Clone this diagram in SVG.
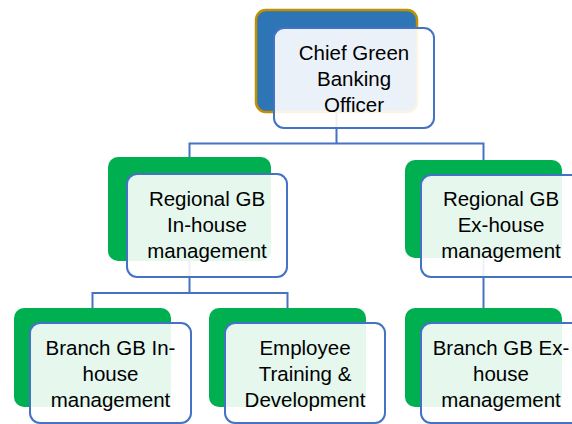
<svg xmlns="http://www.w3.org/2000/svg" width="572" height="424" viewBox="0 0 572 424">
<style>
.back{fill:#00B050;}
.chiefback{fill:#2E75B6;stroke:#BF9000;stroke-width:2.5;}
.front{fill:#ffffff;fill-opacity:0.9;stroke:#4472C4;stroke-width:2;}
.conn{fill:none;stroke:#4472C4;stroke-width:2;}
text{font-family:"Liberation Sans",Arial,sans-serif;font-size:20.5px;fill:#000;text-anchor:middle;}
</style>
<rect width="572" height="424" fill="#ffffff"/>
<g id="connectors">
<path class="conn" d="M336.5,112 V143.5 H189.5 V158 M336.5,143.5 H483.5 V160"/>
<path class="conn" d="M189.5,261 V293 H92.5 V308 M189.5,293 H287.5 V308"/>
<path class="conn" d="M483.5,258 V308"/>
</g>
<g id="chief">
<rect class="chiefback" x="256" y="10" width="161" height="102" rx="10"/>
<rect class="front" x="274" y="28" width="160" height="100" rx="10"/>
<text x="354" y="60">Chief Green</text>
<text x="354" y="86">Banking</text>
<text x="354" y="112">Officer</text>
</g>
<g id="regional-in">
<rect class="back" x="108" y="157" width="163" height="104" rx="10"/>
<rect class="front" x="127" y="174" width="160" height="103" rx="10"/>
<text x="207" y="206">Regional GB</text>
<text x="207" y="232">In-house</text>
<text x="207" y="258">management</text>
</g>
<g id="regional-ex">
<rect class="back" x="405" y="160" width="157" height="98" rx="10"/>
<rect class="front" x="421" y="175" width="160" height="102" rx="10"/>
<text x="501" y="206">Regional GB</text>
<text x="501" y="232">Ex-house</text>
<text x="501" y="258">management</text>
</g>
<g id="branch-in">
<rect class="back" x="14" y="308" width="157" height="99" rx="10"/>
<rect class="front" x="30" y="323" width="161" height="100" rx="10"/>
<text x="110.5" y="355">Branch GB In-</text>
<text x="110.5" y="381">house</text>
<text x="110.5" y="407">management</text>
</g>
<g id="employee">
<rect class="back" x="209" y="308" width="157" height="99" rx="10"/>
<rect class="front" x="225" y="323" width="160" height="100" rx="10"/>
<text x="305" y="355">Employee</text>
<text x="305" y="381">Training &amp;</text>
<text x="305" y="407">Development</text>
</g>
<g id="branch-ex">
<rect class="back" x="405" y="308" width="157" height="99" rx="10"/>
<rect class="front" x="421" y="323" width="160" height="100" rx="10"/>
<text x="501" y="355">Branch GB Ex-</text>
<text x="501" y="381">house</text>
<text x="501" y="407">management</text>
</g>
</svg>
